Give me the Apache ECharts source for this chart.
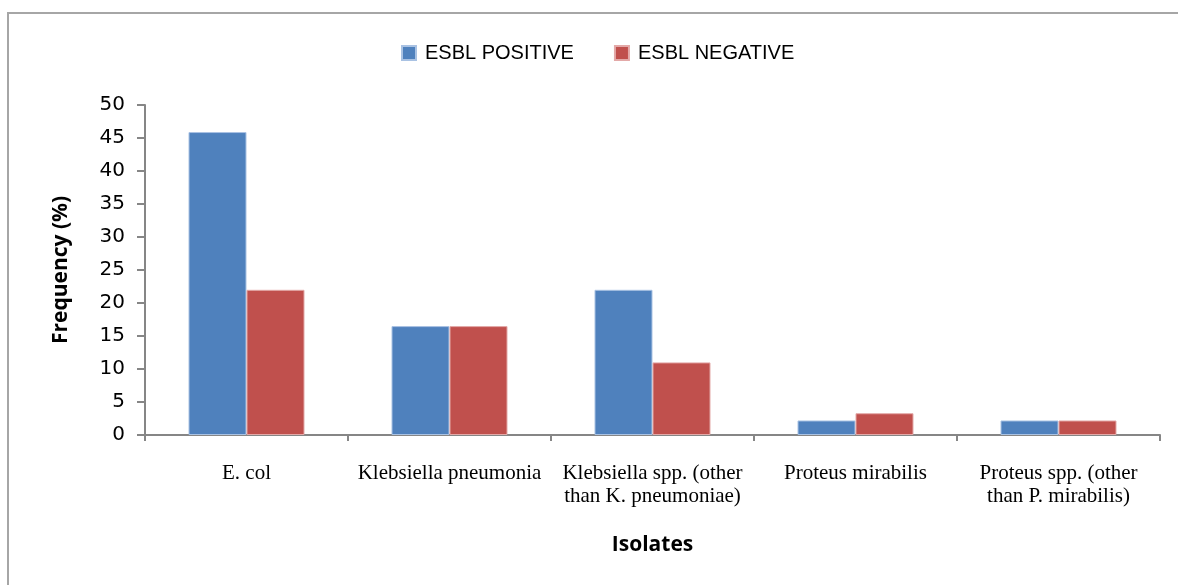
<!DOCTYPE html>
<html>
<head>
<meta charset="utf-8">
<script src="https://cdn.jsdelivr.net/npm/echarts@6/dist/echarts.min.js"></script>
<style>
  html, body { margin: 0; padding: 0; background: #fff; }
  #chart { width: 1178px; height: 585px; }
</style>
</head>
<body>
<div id="chart"></div>
<script>
const categories = [
  'E. col',
  'Klebsiella pneumonia',
  'Klebsiella spp. (other\nthan K. pneumoniae)',
  'Proteus mirabilis',
  'Proteus spp. (other\nthan P. mirabilis)'
];
const esblPositive = [45.9, 16.5, 22.0, 2.2, 2.2];
const esblNegative = [22.0, 16.5, 11.0, 3.3, 2.2];

const chart = echarts.init(document.getElementById('chart'));

const axisGray = '#868686';

const option = {
  animation: false,
  backgroundColor: '#fff',
  graphic: [
    {
      type: 'rect',
      shape: { x: 8, y: 13, width: 1300, height: 700 },
      style: { fill: 'none', stroke: '#a6a6a6', lineWidth: 2 }
    }
  ],
  legend: {
    top: 38,
    left: 396,
    itemWidth: 14,
    itemHeight: 14,
    itemGap: 40,
    icon: 'rect',
    textStyle: { fontFamily: 'Liberation Sans', fontSize: 20, color: '#000', padding: [0, 0, 0, 4] },
    data: ['ESBL POSITIVE', 'ESBL NEGATIVE']
  },
  grid: { left: 145, right: 18, top: 105, bottom: 150 },
  xAxis: {
    type: 'category',
    data: categories,
    name: 'Isolates',
    nameLocation: 'middle',
    nameGap: 100,
    nameTextStyle: { fontFamily: 'Open Sans', fontWeight: 'bold', fontSize: 21, color: '#000' },
    axisLine: { lineStyle: { color: axisGray, width: 2 } },
    axisTick: { show: true, length: 6, lineStyle: { color: axisGray, width: 2 } },
    axisLabel: {
      interval: 0,
      margin: 27,
      lineHeight: 23,
      fontFamily: 'Liberation Serif',
      fontSize: 21,
      color: '#000'
    }
  },
  yAxis: {
    type: 'value',
    min: 0,
    max: 50,
    interval: 5,
    name: 'Frequency (%)',
    nameLocation: 'middle',
    nameGap: 73,
    nameTextStyle: { fontFamily: 'Open Sans', fontWeight: 'bold', fontSize: 21, color: '#000' },
    splitLine: { show: false },
    axisLine: { show: true, lineStyle: { color: axisGray, width: 2 } },
    axisTick: { show: true, length: 8, lineStyle: { color: axisGray, width: 2 } },
    axisLabel: { margin: 20, fontFamily: 'DejaVu Sans', fontSize: 20, color: '#000' }
  },
  series: [
    {
      name: 'ESBL POSITIVE',
      type: 'bar',
      data: esblPositive,
      barWidth: 58,
      barGap: '0%',
      itemStyle: { color: '#4f81bd', borderColor: '#a9c2e3', borderWidth: 1 }
    },
    {
      name: 'ESBL NEGATIVE',
      type: 'bar',
      data: esblNegative,
      barWidth: 58,
      barGap: '0%',
      itemStyle: { color: '#c0504d', borderColor: '#e3a9a8', borderWidth: 1 }
    }
  ]
};

chart.setOption(option);
</script>
</body>
</html>
